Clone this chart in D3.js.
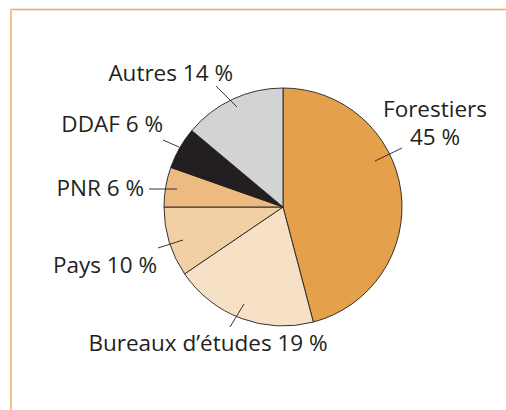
<!DOCTYPE html>
<html>
<head>
<meta charset="utf-8">
<script src="https://cdn.jsdelivr.net/npm/d3@7"></script>
<style>
  body { margin: 0; background: #fff; }
  svg text { font-family: "Open Sans", Lato, sans-serif; fill: #231f20; }
</style>
</head>
<body>
<svg id="chart" width="506" height="410"></svg>
<script>
// shares, labels as printed
const categories = ["Forestiers", "Bureaux d\u2019études", "Pays", "PNR", "DDAF", "Autres"];
const shares = [45.9, 19.6, 9.5, 5.4, 5.7, 13.9];
const percentLabels = ["45 %", "19 %", "10 %", "6 %", "6 %", "14 %"];

const colors = ["#e5a04c", "#f7e1c6", "#f2d0a5", "#edbb82", "#231f20", "#d1d3d4"];

const width = 506, height = 410;
const cx = 283, cy = 207, radius = 119;

const svg = d3.select("#chart");

// frame
svg.append("line")
    .attr("x1", 10).attr("y1", 9.5).attr("x2", width).attr("y2", 9.5)
    .attr("stroke", "#eea565").attr("stroke-width", 1.5);
svg.append("line")
    .attr("x1", 11).attr("y1", 9).attr("x2", 11).attr("y2", height)
    .attr("stroke", "#f6c283").attr("stroke-width", 2);

const data = categories.map((c, i) => ({ name: c, value: shares[i], label: percentLabels[i], color: colors[i] }));

const pie = d3.pie().sort(null).value(d => d.value);
const arc = d3.arc().innerRadius(0).outerRadius(radius);

const g = svg.append("g").attr("transform", `translate(${cx},${cy})`);

g.selectAll("path.slice")
    .data(pie(data))
    .enter().append("path")
    .attr("class", "slice")
    .attr("d", arc)
    .attr("fill", d => d.data.color)
    .attr("stroke", "#231f20")
    .attr("stroke-width", 0.9);

// label layout (relative to pie centre): leader line and text anchor
const layout = {
    "Forestiers": { leader: [[92, -46], [119, -59]], x: 152, y: -90, anchor: "middle", twoLines: true },
    "Bureaux d\u2019études": { leader: [[-39, 97], [-53, 120]], x: -75, y: 144, anchor: "middle" },
    "Pays": { leader: [[-100, 33], [-125, 41]], x: -126, y: 66, anchor: "end" },
    "PNR": { leader: [[-106, -18], [-134, -18]], x: -139, y: -11, anchor: "end" },
    "DDAF": { leader: [[-104, -60], [-120, -67]], x: -120, y: -75, anchor: "end" },
    "Autres": { leader: [[-46, -100], [-67, -121]], x: -50, y: -126, anchor: "end" }
};

data.forEach(d => {
    const l = layout[d.name];
    g.append("line")
        .attr("x1", l.leader[0][0]).attr("y1", l.leader[0][1])
        .attr("x2", l.leader[1][0]).attr("y2", l.leader[1][1])
        .attr("stroke", "#231f20").attr("stroke-width", 0.9);
    const t = g.append("text")
        .attr("x", l.x).attr("y", l.y)
        .attr("text-anchor", l.anchor)
        .style("font-size", "22.5px");
    if (l.twoLines) {
        t.append("tspan").attr("x", l.x).text(d.name);
        t.append("tspan").attr("x", l.x).attr("dy", 28).text(d.label);
    } else {
        t.text(d.name + " " + d.label);
    }
});
</script>
</body>
</html>
